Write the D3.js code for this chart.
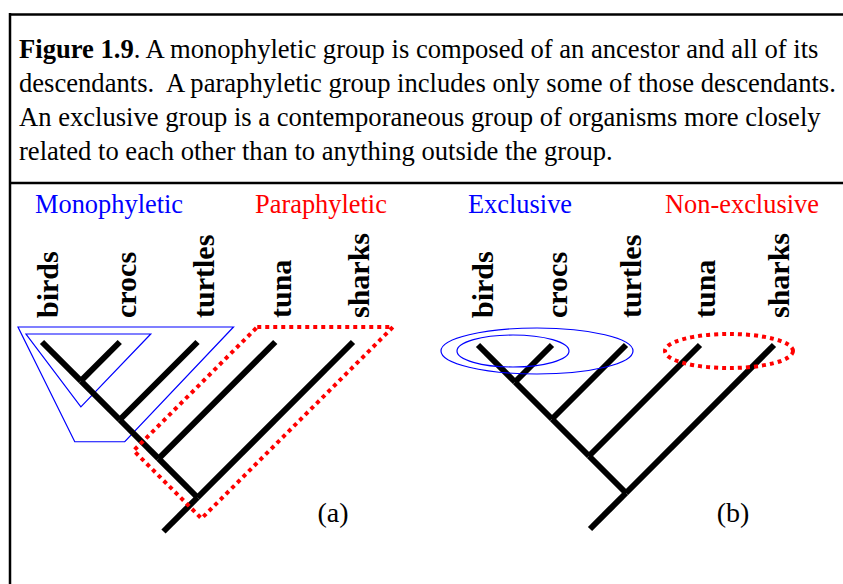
<!DOCTYPE html>
<html>
<head>
<meta charset="utf-8">
<script src="https://cdn.jsdelivr.net/npm/d3@7"></script>
<style>
  body { margin: 0; background: #fff; }
  svg { display: block; }
  text { font-family: "Liberation Serif", "Times New Roman", serif; white-space: pre; }
</style>
</head>
<body>
<svg id="chart"></svg>
<script>
// taxa, left to right
const taxa = ["birds", "crocs", "turtles", "tuna", "sharks"];

// caption (first piece of line 1 is bold)
const captionBold = "Figure 1.9";
const captionLines = [
  ". A monophyletic group is composed of an ancestor and all of its",
  "descendants.  A paraphyletic group includes only some of those descendants.",
  "An exclusive group is a contemporaneous group of organisms more closely",
  "related to each other than to anything outside the group."
];

const panelNames = ["(a)", "(b)"];
const groupNamesA = ["Monophyletic", "Paraphyletic"];
const groupNamesB = ["Exclusive", "Non-exclusive"];

// groups drawn on each panel
const monoGroups = [["birds", "crocs"], ["birds", "crocs", "turtles"]];
const paraGroup = ["tuna", "sharks"];
const exclGroups = [["birds", "crocs"], ["birds", "crocs", "turtles"]];
const nonExclGroup = ["tuna", "sharks"];

const width = 843, height = 584;
const blue = "#0000ff", red = "#ff0000";

const svg = d3.select("#chart").attr("width", width).attr("height", height);

// frame
svg.append("line").attr("x1", 10).attr("x2", width).attr("y1", 14.5).attr("y2", 14.5)
  .attr("stroke", "#000").attr("stroke-width", 2.5);
svg.append("line").attr("x1", 10).attr("x2", 10).attr("y1", 13).attr("y2", height)
  .attr("stroke", "#000").attr("stroke-width", 2.5);
svg.append("line").attr("x1", 10).attr("x2", width).attr("y1", 183).attr("y2", 183)
  .attr("stroke", "#000").attr("stroke-width", 2.5);

// caption
const cap = svg.append("g").attr("font-size", 26.6);
captionLines.forEach((line, i) => {
  const t = cap.append("text").attr("x", 19).attr("y", 58 + i * 34);
  if (i === 0) t.append("tspan").attr("font-weight", "bold").text(captionBold);
  t.append("tspan").text(line);
});

// build the ladder tree ((((birds,crocs),turtles),tuna),sharks)
function ladder(names) {
  let node = { name: names[0] };
  for (let i = 1; i < names.length; i++) node = { children: [node, { name: names[i] }] };
  return node;
}

function drawPanel(x0, x1, tipY, labelDx, stem) {
  const g = svg.append("g");
  const x = d3.scalePoint().domain(taxa).range([x0, x1]);
  const root = d3.hierarchy(ladder(taxa));
  // 45 degree cladogram layout
  root.eachAfter(d => {
    if (!d.children) { d.x = x(d.data.name); d.y = tipY; return; }
    const xs = d.leaves().map(l => x(l.data.name));
    const lo = d3.min(xs), hi = d3.max(xs);
    d.x = (lo + hi) / 2;
    d.y = tipY + (hi - lo) / 2;
  });
  const links = root.links().map(l => [[l.source.x, l.source.y], [l.target.x, l.target.y]]);
  links.push([[root.x, root.y], [root.x - stem, root.y + stem]]);
  g.selectAll("line.branch").data(links).join("line")
    .attr("class", "branch")
    .attr("x1", d => d[0][0]).attr("y1", d => d[0][1])
    .attr("x2", d => d[1][0]).attr("y2", d => d[1][1])
    .attr("stroke", "#000").attr("stroke-width", 6);

  g.selectAll("text.taxon").data(taxa).join("text")
    .attr("class", "taxon")
    .attr("transform", d => `translate(${x(d) + labelDx},318) rotate(-90)`)
    .attr("font-size", 30).attr("font-weight", "bold")
    .text(d => d);
  return { g, x, root };
}

// panel (a)
const A = drawPanel(42, 353, 342, 16, 34);
function cladeNode(P, names) {
  return P.root.descendants().find(d => {
    const l = d.leaves().map(v => v.data.name);
    return l.length === names.length && names.every(n => l.includes(n));
  });
}
const inner = cladeNode(A, monoGroups[0]);
const outer = cladeNode(A, monoGroups[1]);
const tipA = 342;
A.g.insert("path", ":first-child")
  .attr("d", d3.line()([
    [A.x(monoGroups[0][0]) - 16, tipA - 8],
    [A.x(monoGroups[0][1]) + 31, tipA - 8],
    [inner.x, inner.y + 26]
  ]) + "Z")
  .attr("fill", "none").attr("stroke", blue).attr("stroke-width", 1.2);
A.g.insert("path", ":first-child")
  .attr("d", d3.line()([
    [A.x(monoGroups[1][0]) - 24, tipA - 15],
    [A.x(monoGroups[1][2]) + 36, tipA - 15],
    [outer.x + 5, outer.y + 22],
    [outer.x - 45, outer.y + 22]
  ]) + "Z")
  .attr("fill", "none").attr("stroke", blue).attr("stroke-width", 1.2);

// paraphyletic outline
{
  const top = tipA - 15;
  const p1 = [A.x(paraGroup[0]) - 18, top];
  const p2 = [A.x(paraGroup[1]) + 40, top];
  const dy = (A.root.y + 21) - top;
  const p3 = [p2[0] - dy, top + dy];
  // p4: intersection of 45deg line down-left from p1 and up-left from p3
  const t = ((p1[0] - p3[0]) + (p3[1] - p1[1])) / 2;
  const p4 = [p1[0] - t, p1[1] + t];
  A.g.append("path")
    .attr("d", d3.line()([p1, p2, p3, p4]) + "Z")
    .attr("fill", "none").attr("stroke", red).attr("stroke-width", 4)
    .attr("stroke-dasharray", "4,4").attr("stroke-linejoin", "round");
}

svg.append("g").attr("font-size", 26.4).selectAll("text").data(groupNamesA).join("text")
  .attr("x", (d, i) => [35, 255][i]).attr("y", 213)
  .attr("fill", (d, i) => i ? red : blue).text(d => d);

// panel (b)
const B = drawPanel(478, 774, 345, 15, 36);
const tipB = 345;
const ellipses = [
  { names: exclGroups[1], padL: 37, padR: 7, ry: 23, color: blue, w: 1.2, dash: null },
  { names: exclGroups[0], padL: 21, padR: 17, ry: 16, color: blue, w: 1.2, dash: null },
  { names: nonExclGroup, padL: 35, padR: 19, ry: 17, color: red, w: 4, dash: "4,4" }
];
B.g.selectAll("ellipse").data(ellipses).join("ellipse")
  .attr("cx", d => (B.x(d.names[0]) - d.padL + B.x(d.names[d.names.length - 1]) + d.padR) / 2)
  .attr("cy", tipB + 6)
  .attr("rx", d => (B.x(d.names[d.names.length - 1]) + d.padR - B.x(d.names[0]) + d.padL) / 2)
  .attr("ry", d => d.ry)
  .attr("fill", "none").attr("stroke", d => d.color).attr("stroke-width", d => d.w)
  .attr("stroke-dasharray", d => d.dash);

svg.append("g").attr("font-size", 26.4).selectAll("text").data(groupNamesB).join("text")
  .attr("x", (d, i) => [468, 665][i]).attr("y", 213)
  .attr("fill", (d, i) => i ? red : blue).text(d => d);

// panel letters
svg.append("g").attr("font-size", 28).selectAll("text").data(panelNames).join("text")
  .attr("x", (d, i) => [333, 733][i]).attr("y", 522)
  .attr("text-anchor", "middle").text(d => d);
</script>
</body>
</html>
